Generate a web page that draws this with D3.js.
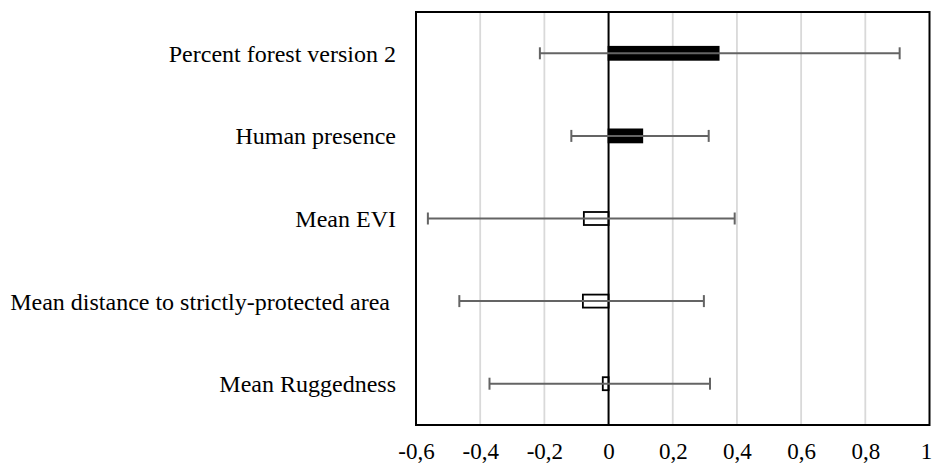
<!DOCTYPE html>
<html>
<head>
<meta charset="utf-8">
<script src="https://cdn.jsdelivr.net/npm/d3@7"></script>
<style>
  html, body { margin: 0; padding: 0; background: #fff; }
  svg { display: block; }
  text { font-family: "Liberation Serif", "Times New Roman", serif; fill: #000; }
</style>
</head>
<body>
<svg id="chart" width="932" height="464"></svg>
<script>
const categories = ["Percent forest version 2", "Human presence", "Mean EVI", "Mean distance to strictly-protected area ", "Mean Ruggedness"];
const estimates = [0.343, 0.105, -0.077, -0.080, -0.018];
const lowerCI = [-0.214, -0.116, -0.563, -0.465, -0.371];
const upperCI = [0.907, 0.312, 0.393, 0.297, 0.316];
const filled = [true, true, false, false, false];
const tickValues = [-0.6, -0.4, -0.2, 0, 0.2, 0.4, 0.6, 0.8, 1];
const tickLabels = ["-0,6", "-0,4", "-0,2", "0", "0,2", "0,4", "0,6", "0,8", "1"];

(function () {
const rows = categories.map((c, i) => ({ cat: c, est: estimates[i], lo: lowerCI[i], hi: upperCI[i], filled: filled[i] }));

const svg = d3.select("#chart");
const pL = 416, pR = 929.5, pT = 12, pB = 425;

const x = d3.scaleLinear().domain([-0.6, 1]).range([pL, pR]);
const y = d3.scaleBand().domain(categories).range([pT, pB]);

// gridlines
svg.append("g").selectAll("line")
  .data(tickValues.filter(v => v !== 0 && v !== -0.6 && v !== 1))
  .join("line")
  .attr("x1", d => x(d)).attr("x2", d => x(d))
  .attr("y1", pT).attr("y2", pB)
  .attr("stroke", "#d9d9d9").attr("stroke-width", 1.8);

// bars
const barH = 13;
svg.append("g").selectAll("rect")
  .data(rows)
  .join("rect")
  .attr("x", d => Math.min(x(0), x(d.est)))
  .attr("width", d => Math.abs(x(d.est) - x(0)))
  .attr("y", d => y(d.cat) + y.bandwidth() / 2 - barH / 2)
  .attr("height", barH)
  .attr("fill", d => d.filled ? "#000" : "#fff")
  .attr("stroke", "#000").attr("stroke-width", 1.8);

// zero line
svg.append("line")
  .attr("x1", x(0)).attr("x2", x(0)).attr("y1", pT).attr("y2", pB)
  .attr("stroke", "#000").attr("stroke-width", 2);

// error bars
const eb = svg.append("g").attr("stroke", "#646464").attr("stroke-width", 2);
const capH = 12;
rows.forEach(d => {
  const cy = y(d.cat) + y.bandwidth() / 2;
  eb.append("line").attr("x1", x(d.lo)).attr("x2", x(d.hi)).attr("y1", cy).attr("y2", cy);
  eb.append("line").attr("x1", x(d.lo)).attr("x2", x(d.lo)).attr("y1", cy - capH / 2).attr("y2", cy + capH / 2);
  eb.append("line").attr("x1", x(d.hi)).attr("x2", x(d.hi)).attr("y1", cy - capH / 2).attr("y2", cy + capH / 2);
});

// border
svg.append("rect")
  .attr("x", pL).attr("y", pT).attr("width", pR - pL).attr("height", pB - pT)
  .attr("fill", "none").attr("stroke", "#000").attr("stroke-width", 2);

// x axis labels
const xAxis = d3.axisBottom(x).tickValues(tickValues)
  .tickFormat((d, i) => tickLabels[i]).tickSize(0).tickPadding(0);
const gx = svg.append("g").attr("transform", `translate(0,${pB})`).call(xAxis);
gx.select(".domain").remove();
gx.selectAll("text")
  .attr("y", 34).attr("dy", 0)
  .attr("dx", d => d === 1 ? -3.5 : 0)
  .style("font-family", "'Liberation Serif', 'Times New Roman', serif")
  .style("font-size", "23px").attr("fill", "#000");

// category labels
const yAxis = d3.axisLeft(y).tickSize(0).tickPadding(0);
const gy = svg.append("g").attr("transform", `translate(396,0)`).call(yAxis);
gy.select(".domain").remove();
gy.selectAll("text")
  .attr("x", 0).attr("dy", "0.35em")
  .style("font-family", "'Liberation Serif', 'Times New Roman', serif")
  .style("font-size", "24px").style("white-space", "pre").attr("fill", "#000");
})();
</script>
</body>
</html>
